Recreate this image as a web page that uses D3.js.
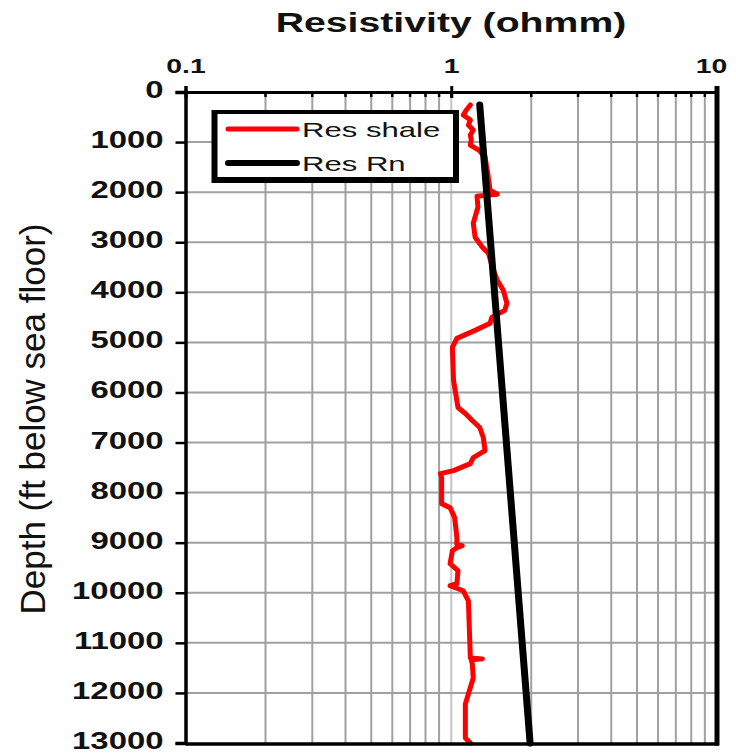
<!DOCTYPE html>
<html><head><meta charset="utf-8">
<script src="https://cdn.jsdelivr.net/npm/d3@7/dist/d3.min.js"></script>
<style>
body{margin:0;background:#fff}
svg{display:block}
text{font-family:"Liberation Sans",Arial,Helvetica,sans-serif;fill:#111}
</style>
</head><body>
<svg id="c" width="736" height="755"></svg>
<script>
// ---- data ----
const xTickValues = [0.1, 1, 10];
const xTickLabels = ["0.1", "1", "10"];
const xGridValues = [0.2,0.3,0.4,0.5,0.6,0.7,0.8,0.9,1,2,3,4,5,6,7,8,9];
const depthTicks = [0,1000,2000,3000,4000,5000,6000,7000,8000,9000,10000,11000,12000,13000];
const depthLabels = ["0","1000","2000","3000","4000","5000","6000","7000","8000","9000","10000","11000","12000","13000"];
const shaleDepth = [260,360,460,560,660,760,860,960,1060,1160,1300,1600,1960,2040,2080,2300,2620,2900,3100,3220,3500,3760,3960,4220,4360,4500,4620,4760,4920,5100,5760,6300,6420,6560,6700,6900,7160,7300,7420,7560,7620,7700,8220,8300,8500,8900,9040,9060,9100,9160,9420,9560,9820,9860,9960,10160,11300,11320,11340,11420,11700,12220,12900,13000];
const shaleRes   = [1.18,1.14,1.11,1.18,1.16,1.21,1.18,1.19,1.18,1.27,1.34,1.37,1.40,1.49,1.25,1.26,1.21,1.23,1.31,1.38,1.43,1.49,1.57,1.62,1.59,1.42,1.40,1.23,1.05,1.01,1.02,1.06,1.13,1.20,1.28,1.32,1.34,1.21,1.18,1.02,0.91,0.92,0.92,0.99,1.03,1.05,1.05,1.10,1.05,1.01,0.99,1.06,1.05,0.99,1.11,1.16,1.18,1.31,1.19,1.20,1.21,1.13,1.13,1.18];
const rnDepth = [260, 13000];
const rnRes   = [1.28, 1.98];
const seriesNames  = ["Res shale", "Res Rn"];
const seriesColors = ["#ff0000", "#000000"];
const xTitle = "Resistivity (ohmm)";
const yTitle = "Depth (ft below sea floor)";

// ---- scales ----
const svg = d3.select("#c");
const x = d3.scaleLog().domain([0.1, 10]).range([185.5, 717]);
const y = d3.scaleLinear().domain([0, 13000]).range([92, 743]);

// grid
const grid = svg.append("g");
grid.selectAll("line.v").data(xGridValues).join("line")
  .attr("x1", d => x(d)).attr("x2", d => x(d))
  .attr("y1", y(0)).attr("y2", y(13000))
  .attr("stroke", d => d === 1 ? "#c4c4c4" : "#a0a0a0").attr("stroke-width", 2);
grid.selectAll("line.h").data(depthTicks.slice(1, -1)).join("line")
  .attr("x1", x(0.1)).attr("x2", x(10))
  .attr("y1", d => y(d)).attr("y2", d => y(d))
  .attr("stroke", "#a0a0a0").attr("stroke-width", 2);

// top minor tick stubs
svg.append("g").selectAll("line").data(xGridValues).join("line")
  .attr("x1", d => x(d)).attr("x2", d => x(d))
  .attr("y1", y(0)).attr("y2", y(0) + 5)
  .attr("stroke", "#000").attr("stroke-width", 2.5);

// series lines
const line = d3.line().x(d => x(d[1])).y(d => y(d[0]));
svg.append("path").datum(shaleDepth.map((d, i) => [d, shaleRes[i]]))
  .attr("d", line).attr("fill", "none").attr("stroke", seriesColors[0])
  .attr("stroke-width", 5).attr("stroke-linejoin", "round").attr("stroke-linecap", "round");
svg.append("path").datum(rnDepth.map((d, i) => [d, rnRes[i]]))
  .attr("d", line).attr("fill", "none").attr("stroke", seriesColors[1])
  .attr("stroke-width", 7).attr("stroke-linecap", "round");

// bottom & right axes (frame)
svg.append("line").attr("x1", x(0.1)).attr("x2", x(10) + 2).attr("y1", y(13000) + 1).attr("y2", y(13000) + 1)
  .attr("stroke", "#000").attr("stroke-width", 3.5);
svg.append("line").attr("x1", x(10)).attr("x2", x(10)).attr("y1", y(0) - 6).attr("y2", y(13000) + 2.5)
  .attr("stroke", "#000").attr("stroke-width", 5);

// top axis
const topAxis = svg.append("g").attr("transform", `translate(0,${y(0)})`)
  .call(d3.axisTop(x).tickValues(xTickValues).tickFormat((d, i) => xTickLabels[i]).tickSize(6).tickPadding(12));
topAxis.select(".domain").attr("stroke", "#000").attr("stroke-width", 3);
topAxis.selectAll(".tick line").attr("y1", 6).attr("y2", -6).attr("stroke", "#000").attr("stroke-width", 3);
topAxis.selectAll(".tick text")
  .attr("y", null).attr("dy", null)
  .attr("transform", (d, i) => `translate(${i === 2 ? -6 : 0},-19) scale(1.35,1)`)
  .style("font-size", "21px").style("font-weight", "bold").style("fill", "#111");

// left axis
const leftAxis = svg.append("g").attr("transform", `translate(${x(0.1)},0)`)
  .call(d3.axisLeft(y).tickValues(depthTicks).tickFormat((d, i) => depthLabels[i]).tickSize(10).tickPadding(12));
leftAxis.select(".domain").attr("stroke", "#000").attr("stroke-width", 3.5);
leftAxis.selectAll(".tick line").attr("stroke", "#000").attr("stroke-width", 2.5);
leftAxis.selectAll(".tick text")
  .attr("x", null).attr("dy", "0.24em")
  .attr("transform", "translate(-22,0) scale(1.43,1)")
  .style("font-size", "23px").style("font-weight", "bold").style("fill", "#111");

// titles
svg.append("text").attr("transform", "translate(451,32) scale(1.4,1)")
  .attr("text-anchor", "middle").style("font-size", "28px").style("font-weight", "bold").text(xTitle);
svg.append("text").attr("transform", "translate(45,419) rotate(-90)")
  .attr("text-anchor", "middle").style("font-size", "35px").text(yTitle);

// legend
const lg = svg.append("g");
lg.append("rect").attr("x", 211.5).attr("y", 110).attr("width", 247.5).attr("height", 73).attr("fill", "#000");
lg.append("rect").attr("x", 217.5).attr("y", 114).attr("width", 235.5).attr("height", 63).attr("fill", "#fff");
const rows = [129, 163];
seriesNames.forEach((name, i) => {
  lg.append("line").attr("x1", 228).attr("x2", 297).attr("y1", rows[i]).attr("y2", rows[i])
    .attr("stroke", seriesColors[i]).attr("stroke-width", i === 0 ? 5 : 6).attr("stroke-linecap", "round");
  lg.append("text").attr("transform", `translate(302,${rows[i] + 8}) scale(1.48,1)`)
    .style("font-size", "21px").text(name);
});
</script>
</body></html>
